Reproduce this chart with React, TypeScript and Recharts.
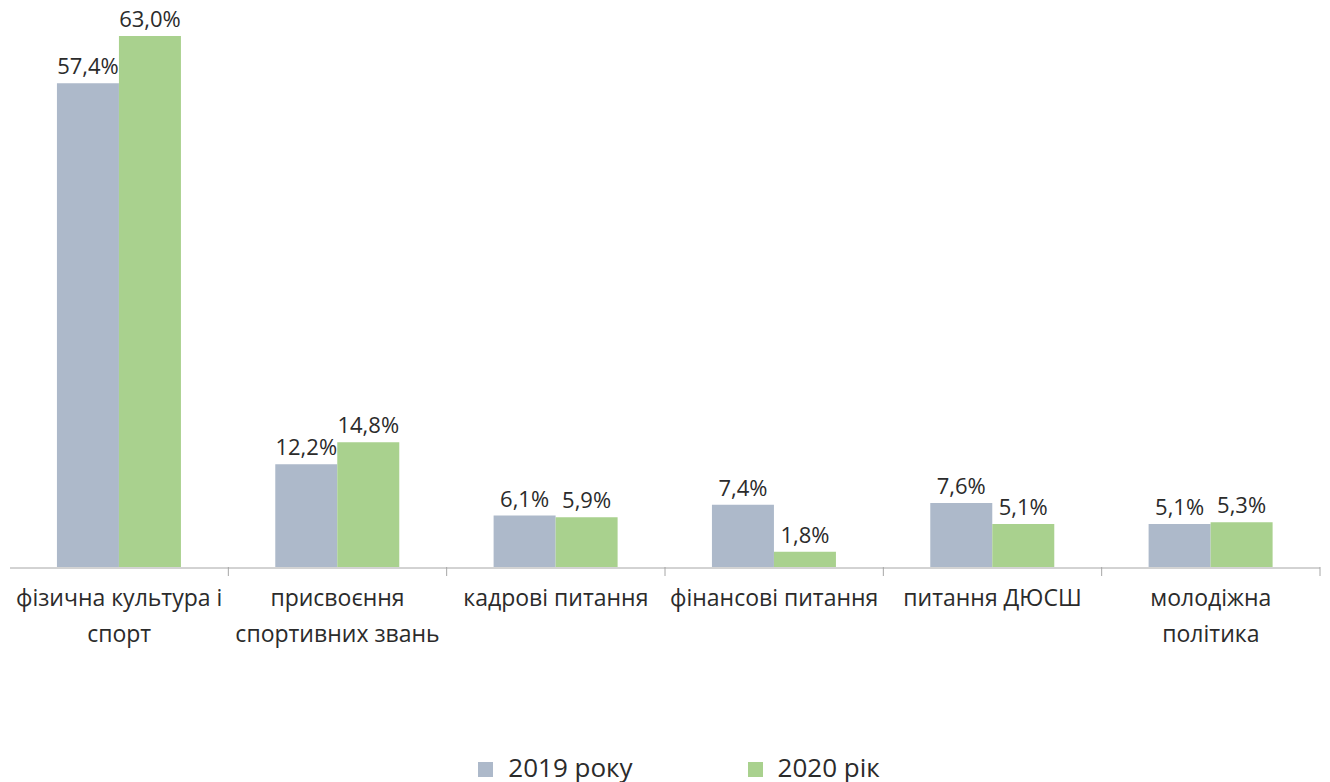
import React from 'react';
import { BarChart, Bar, XAxis, YAxis, Legend, LabelList } from 'recharts';

const categories = [
  'фізична культура і\nспорт',
  'присвоєння\nспортивних звань',
  'кадрові питання',
  'фінансові питання',
  'питання ДЮСШ',
  'молодіжна\nполітика',
];
const values2019 = [57.4, 12.2, 6.1, 7.4, 7.6, 5.1];
const values2020 = [63.0, 14.8, 5.9, 1.8, 5.1, 5.3];
const seriesNames = ['2019 року', '2020 рік'];
const boundaryTicks = [0, 1, 2, 3, 4, 5, 6];

const data = categories.map((c, i) => ({ category: c, y2019: values2019[i], y2020: values2020[i] }));

const FONT = '"Open Sans", "Noto Sans", sans-serif';
const TEXT = '#2B2B2B';
const AXIS = '#A6A6A6';

const fmt = (v: any) => Number(v).toFixed(1).replace('.', ',') + '%';

const CategoryTick = (props: any) => {
  const { x, y, payload } = props;
  const lines = String(payload.value).split('\n');
  return (
    <text x={x} y={y + 38} textAnchor="middle" fontFamily={FONT} fontSize={23} fill={TEXT}>
      {lines.map((l, i) => (
        <tspan key={i} x={x} dy={i === 0 ? 0 : 36}>
          {l}
        </tspan>
      ))}
    </text>
  );
};

const EmptyTick = () => <g />;

const LegendContent = (props: any) => {
  const payload = props.payload || [];
  return (
    <div
      style={{
        display: 'flex',
        justifyContent: 'center',
        alignItems: 'center',
        height: 30,
        lineHeight: '24px',
        fontFamily: FONT,
        fontSize: 26,
        color: TEXT,
        paddingLeft: 28,
      }}
    >
      {payload.map((p: any, i: number) => (
        <div key={i} style={{ display: 'flex', alignItems: 'center', marginLeft: i ? 115 : 0 }}>
          <span
            style={{
              display: 'inline-block',
              width: 15,
              height: 15,
              background: p.color,
              marginRight: 15,
              position: 'relative',
              top: 2,
            }}
          />
          <span>{p.value}</span>
        </div>
      ))}
    </div>
  );
};

export default function App() {
  return (
    <div style={{ width: 1322, height: 774 }}>
      <BarChart
        width={1322}
        height={774}
        data={data}
        margin={{ top: 28, right: 10, left: 2, bottom: 0 }}
        barCategoryGap="21.5%"
        barGap={0}
      >
        <XAxis
          xAxisId="b"
          type="number"
          dataKey="__none"
          domain={[0, 6]}
          ticks={boundaryTicks}
          allowDataOverflow
          tick={EmptyTick}
          tickSize={9}
          axisLine={false}
          tickLine={{ stroke: AXIS }}
          height={1}
        />
        <XAxis
          xAxisId="c"
          dataKey="category"
          interval={0}
          tick={<CategoryTick />}
          tickLine={false}
          tickSize={0}
          tickMargin={0}
          axisLine={{ stroke: AXIS }}
          height={184}
        />
        <YAxis hide domain={[0, 'dataMax']} />
        <Legend verticalAlign="bottom" content={<LegendContent />} />
        <Bar xAxisId="c" dataKey="y2019" name={seriesNames[0]} fill="#ADB9CA" isAnimationActive={false}>
          <LabelList dataKey="y2019" position="top" offset={9} formatter={fmt} fill={TEXT} fontSize={22} fontFamily={FONT} />
        </Bar>
        <Bar xAxisId="c" dataKey="y2020" name={seriesNames[1]} fill="#A9D18E" isAnimationActive={false}>
          <LabelList dataKey="y2020" position="top" offset={9} formatter={fmt} fill={TEXT} fontSize={22} fontFamily={FONT} />
        </Bar>
      </BarChart>
    </div>
  );
}
